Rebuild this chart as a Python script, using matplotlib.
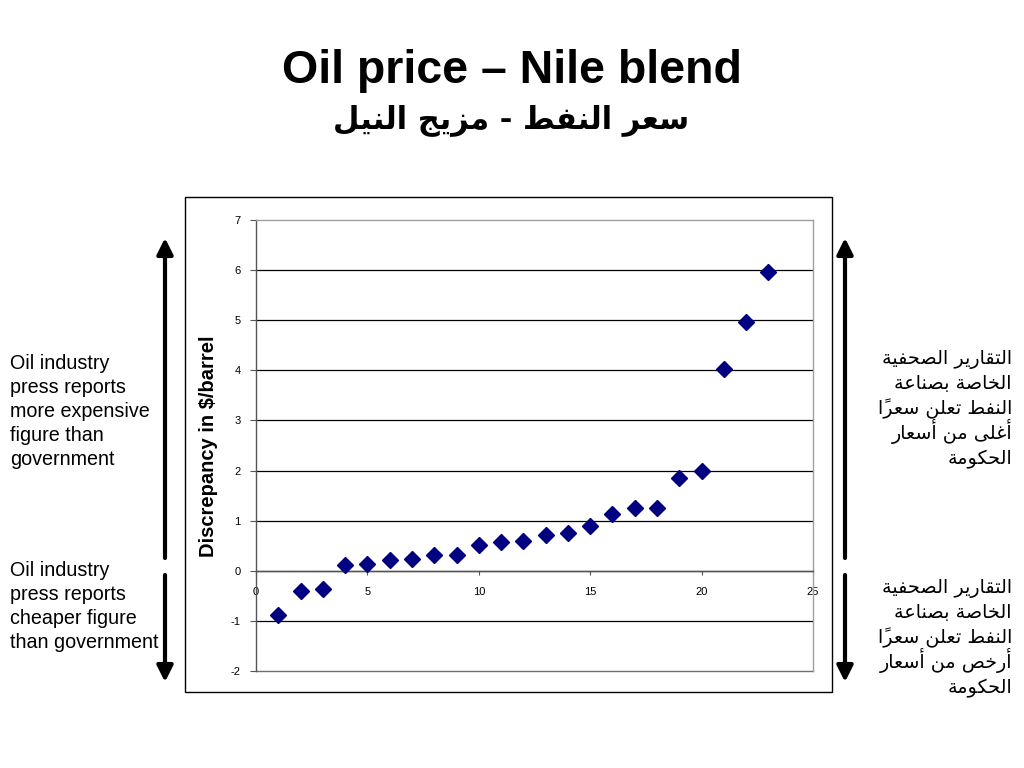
import matplotlib
matplotlib.use("Agg")
import matplotlib.pyplot as plt
from matplotlib.patches import Rectangle

# ---------------- data ----------------
obs_index = list(range(1, 24))
discrepancy = [-0.89, -0.41, -0.36, 0.12, 0.14, 0.22, 0.24, 0.31, 0.32, 0.51,
               0.57, 0.59, 0.71, 0.75, 0.89, 1.14, 1.26, 1.26, 1.86, 2.00,
               4.03, 4.97, 5.97]
x_ticks = [0, 5, 10, 15, 20, 25]
y_ticks = [-2, -1, 0, 1, 2, 3, 4, 5, 6, 7]

title_en = "Oil price \u2013 Nile blend"
title_ar = "سعر النفط - مزيج النيل"
ylabel = "Discrepancy in $/barrel"
left_upper = ["Oil industry", "press reports", "more expensive", "figure than", "government"]
left_lower = ["Oil industry", "press reports", "cheaper figure", "than government"]
right_upper = ["التقارير الصحفية", "الخاصة بصناعة", "النفط تعلن سعراً", "أغلى من أسعار", "الحكومة"]
right_lower = ["التقارير الصحفية", "الخاصة بصناعة", "النفط تعلن سعراً", "أرخص من أسعار", "الحكومة"]

# ---------------- minimal Arabic shaping (presentation forms + visual order) ----------------
AR_FORMS = {
    '\u0627': ('\uFE8D', '\uFE8E', None, None),
    '\u0623': ('\uFE83', '\uFE84', None, None),
    '\u0628': ('\uFE8F', '\uFE90', '\uFE91', '\uFE92'),
    '\u0629': ('\uFE93', '\uFE94', None, None),
    '\u062A': ('\uFE95', '\uFE96', '\uFE97', '\uFE98'),
    '\u062C': ('\uFE9D', '\uFE9E', '\uFE9F', '\uFEA0'),
    '\u062D': ('\uFEA1', '\uFEA2', '\uFEA3', '\uFEA4'),
    '\u062E': ('\uFEA5', '\uFEA6', '\uFEA7', '\uFEA8'),
    '\u062F': ('\uFEA9', '\uFEAA', None, None),
    '\u0631': ('\uFEAD', '\uFEAE', None, None),
    '\u0632': ('\uFEAF', '\uFEB0', None, None),
    '\u0633': ('\uFEB1', '\uFEB2', '\uFEB3', '\uFEB4'),
    '\u0635': ('\uFEB9', '\uFEBA', '\uFEBB', '\uFEBC'),
    '\u0637': ('\uFEC1', '\uFEC2', '\uFEC3', '\uFEC4'),
    '\u0639': ('\uFEC9', '\uFECA', '\uFECB', '\uFECC'),
    '\u063A': ('\uFECD', '\uFECE', '\uFECF', '\uFED0'),
    '\u0641': ('\uFED1', '\uFED2', '\uFED3', '\uFED4'),
    '\u0642': ('\uFED5', '\uFED6', '\uFED7', '\uFED8'),
    '\u0643': ('\uFED9', '\uFEDA', '\uFEDB', '\uFEDC'),
    '\u0644': ('\uFEDD', '\uFEDE', '\uFEDF', '\uFEE0'),
    '\u0645': ('\uFEE1', '\uFEE2', '\uFEE3', '\uFEE4'),
    '\u0646': ('\uFEE5', '\uFEE6', '\uFEE7', '\uFEE8'),
    '\u0647': ('\uFEE9', '\uFEEA', '\uFEEB', '\uFEEC'),
    '\u0648': ('\uFEED', '\uFEEE', None, None),
    '\u0649': ('\uFEEF', '\uFEF0', None, None),
    '\u064A': ('\uFEF1', '\uFEF2', '\uFEF3', '\uFEF4'),
}


def is_mark(c):
    return '\u064B' <= c <= '\u065F'


def shape_ar(text):
    chars = list(text)
    n = len(chars)
    res = []
    for i, c in enumerate(chars):
        if c not in AR_FORMS:
            res.append(c)
            continue
        j = i - 1
        while j >= 0 and is_mark(chars[j]):
            j -= 1
        prev = chars[j] if j >= 0 else None
        k = i + 1
        while k < n and is_mark(chars[k]):
            k += 1
        nxt = chars[k] if k < n else None
        f = AR_FORMS[c]
        jp = prev in AR_FORMS and AR_FORMS[prev][2] is not None
        jn = f[2] is not None and nxt in AR_FORMS
        if jp and jn:
            g = f[3]
        elif jp:
            g = f[1]
        elif jn:
            g = f[2]
        else:
            g = f[0]
        res.append(g)
    clusters = []
    for c in res:
        if is_mark(c) and clusters:
            clusters[-1] += c
        else:
            clusters.append(c)
    return ''.join(reversed(clusters))


# ---------------- figure ----------------
W, H = 1024, 768
fig = plt.figure(figsize=(W / 100, H / 100), dpi=100)
fig.patch.set_facecolor("white")

LAT = ["Liberation Sans", "DejaVu Sans"]
ARF = ["DejaVu Sans"]


def fx(px):
    return px / W


def fy(py):
    return 1 - py / H


# outer chart border
fig.add_artist(Rectangle((fx(185), fy(692)), fx(832) - fx(185), fy(197) - fy(692),
                         transform=fig.transFigure, fill=False, edgecolor="black", lw=1.0))

ax = fig.add_axes([fx(256), fy(671), fx(813) - fx(256), fy(220) - fy(671)])

for side in ["top", "right"]:
    ax.spines[side].set_color("#a0a0a0")
    ax.spines[side].set_linewidth(1.0)
ax.spines["left"].set_color("#555555")
ax.spines["left"].set_linewidth(1.0)
ax.spines["bottom"].set_position(("data", 0))
ax.spines["bottom"].set_color("#555555")
ax.spines["bottom"].set_linewidth(1.0)

ax.set_xlim(0, 25)
ax.set_ylim(-2, 7)
ax.set_xticks(x_ticks)
ax.set_yticks(y_ticks)
ax.set_xticklabels([str(v) for v in x_ticks])
ax.set_yticklabels([str(v) for v in y_ticks])
ax.tick_params(axis="y", direction="out", length=4, width=0.8, color="#555555", pad=7,
               labelcolor="black", labelsize=8)
ax.tick_params(axis="x", direction="out", length=3, width=0.8, color="#555555", pad=9,
               labelcolor="black", labelsize=8)
for lab in ax.get_xticklabels() + ax.get_yticklabels():
    lab.set_fontfamily(LAT)

ax.grid(axis="y", color="black", lw=0.9, zorder=1)
ax.grid(axis="x", visible=False)
glines = ax.get_ygridlines()
glines[0].set_visible(False)
glines[-1].set_visible(False)
ax.set_axisbelow(True)
ax.axhline(-2, color="#707070", lw=1.0, clip_on=False, zorder=2)

ax.plot(obs_index, discrepancy, linestyle="none", marker="D", markersize=8,
        color="#000080", markeredgecolor="#000080", zorder=3, clip_on=False)

# y label
fig.text(fx(209), fy(446), ylabel, rotation=90, ha="center", va="center",
         fontsize=14.5, fontweight="bold", fontfamily=LAT)

# titles
fig.text(fx(512), fy(83), title_en, ha="center", va="baseline",
         fontsize=33.5, fontweight="bold", fontfamily=LAT)
fig.text(fx(511), fy(128), shape_ar(title_ar), ha="center", va="baseline",
         fontsize=22, fontweight="bold", fontfamily=ARF)

# left annotations
for line, by in zip(left_upper, [369, 393, 417, 441, 465]):
    fig.text(fx(10), fy(by), line, ha="left", va="baseline", fontsize=14.2, fontfamily=LAT)
for line, by in zip(left_lower, [576, 600, 624, 648]):
    fig.text(fx(10), fy(by), line, ha="left", va="baseline", fontsize=14.2, fontfamily=LAT)

# right annotations (Arabic)
for line, by in zip(right_upper, [364, 389, 414, 439, 464]):
    fig.text(fx(1012), fy(by), shape_ar(line), ha="right", va="baseline", fontsize=13.8, fontfamily=ARF)
for line, by in zip(right_lower, [593, 618, 643, 668, 693]):
    fig.text(fx(1012), fy(by), shape_ar(line), ha="right", va="baseline", fontsize=13.8, fontfamily=ARF)

# arrows
arrow_kw = dict(arrowstyle="-|>", lw=3, color="black", mutation_scale=24, shrinkA=0, shrinkB=0)
for xpx in (165, 845):
    ax.annotate("", xy=(xpx, H - 238), xytext=(xpx, H - 558), xycoords="figure pixels",
                textcoords="figure pixels", arrowprops=arrow_kw, annotation_clip=False)
    ax.annotate("", xy=(xpx, H - 682), xytext=(xpx, H - 575), xycoords="figure pixels",
                textcoords="figure pixels", arrowprops=arrow_kw, annotation_clip=False)

fig.savefig("out.png", dpi=100, facecolor="white")
